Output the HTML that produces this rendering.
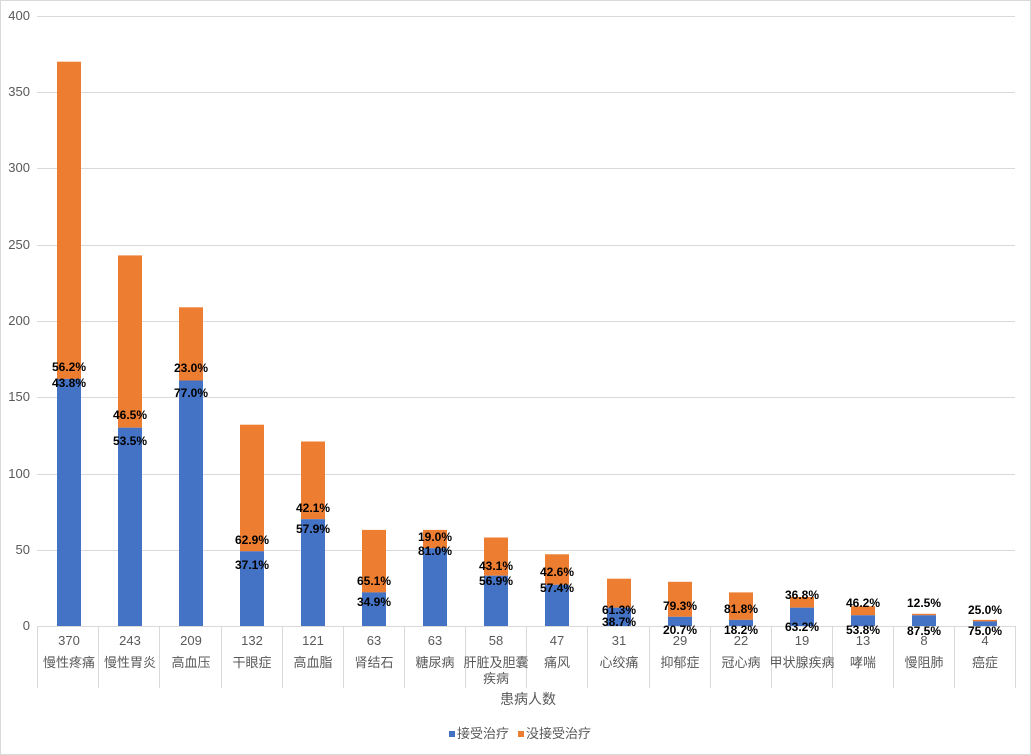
<!DOCTYPE html>
<html><head><meta charset="utf-8"><style>
html,body{margin:0;padding:0;background:#fff;}
svg{display:block;font-family:"Liberation Sans","Noto Sans CJK SC",sans-serif;}
.t{fill:#595959;font-size:13px;}
.p{fill:#000;font-size:12px;font-weight:bold;text-anchor:middle;}
.n{fill:#595959;font-size:13px;text-anchor:middle;}
.b{fill:#4472C4;} .o{fill:#ED7D31;}
</style></head><body>
<svg width="1031" height="755" viewBox="0 0 1031 755">
<rect x="0.5" y="0.5" width="1030" height="754" fill="#fff" stroke="#D9D9D9"/>
<g stroke="#D9D9D9" stroke-width="1">
<line x1="37" x2="1015" y1="16.5" y2="16.5"/>
<line x1="37" x2="1015" y1="92.5" y2="92.5"/>
<line x1="37" x2="1015" y1="168.5" y2="168.5"/>
<line x1="37" x2="1015" y1="245.5" y2="245.5"/>
<line x1="37" x2="1015" y1="321.5" y2="321.5"/>
<line x1="37" x2="1015" y1="397.5" y2="397.5"/>
<line x1="37" x2="1015" y1="474.5" y2="474.5"/>
<line x1="37" x2="1015" y1="550.5" y2="550.5"/>
<line x1="37" x2="1015" y1="626.5" y2="626.5"/>
<line x1="37.5" x2="37.5" y1="626" y2="688"/><line x1="98.5" x2="98.5" y1="626" y2="688"/>
<line x1="159.5" x2="159.5" y1="626" y2="688"/><line x1="221.5" x2="221.5" y1="626" y2="688"/>
<line x1="282.5" x2="282.5" y1="626" y2="688"/><line x1="343.5" x2="343.5" y1="626" y2="688"/>
<line x1="404.5" x2="404.5" y1="626" y2="688"/><line x1="465.5" x2="465.5" y1="626" y2="688"/>
<line x1="526.5" x2="526.5" y1="626" y2="688"/><line x1="587.5" x2="587.5" y1="626" y2="688"/>
<line x1="649.5" x2="649.5" y1="626" y2="688"/><line x1="710.5" x2="710.5" y1="626" y2="688"/>
<line x1="771.5" x2="771.5" y1="626" y2="688"/><line x1="832.5" x2="832.5" y1="626" y2="688"/>
<line x1="893.5" x2="893.5" y1="626" y2="688"/><line x1="954.5" x2="954.5" y1="626" y2="688"/>
<line x1="1015.5" x2="1015.5" y1="626" y2="688"/>
</g>
<g class="t" text-anchor="end">
<text x="30" y="20">400</text><text x="30" y="96">350</text><text x="30" y="172">300</text>
<text x="30" y="249">250</text><text x="30" y="325">200</text><text x="30" y="401">150</text>
<text x="30" y="478">100</text><text x="30" y="554">50</text><text x="30" y="630">0</text>
</g>
<g>
<rect class="o" x="57" y="61.7" width="24" height="317.2"/><rect class="b" x="57" y="378.9" width="24" height="247.1"/>
<rect class="o" x="118" y="255.4" width="24" height="172.3"/><rect class="b" x="118" y="427.7" width="24" height="198.3"/>
<rect class="o" x="179" y="307.3" width="24" height="73.2"/><rect class="b" x="179" y="380.5" width="24" height="245.5"/>
<rect class="o" x="240" y="424.7" width="24" height="126.6"/><rect class="b" x="240" y="551.3" width="24" height="74.7"/>
<rect class="o" x="301" y="441.5" width="24" height="77.7"/><rect class="b" x="301" y="519.2" width="24" height="106.8"/>
<rect class="o" x="362" y="529.9" width="24" height="62.5"/><rect class="b" x="362" y="592.4" width="24" height="33.6"/>
<rect class="o" x="423" y="529.9" width="24" height="18.3"/><rect class="b" x="423" y="548.2" width="24" height="77.8"/>
<rect class="o" x="484" y="537.5" width="24" height="38.2"/><rect class="b" x="484" y="575.7" width="24" height="50.3"/>
<rect class="o" x="545" y="554.3" width="24" height="30.5"/><rect class="b" x="545" y="584.8" width="24" height="41.2"/>
<rect class="o" x="607" y="578.7" width="24" height="29"/><rect class="b" x="607" y="607.7" width="24" height="18.3"/>
<rect class="o" x="668" y="581.8" width="24" height="35"/><rect class="b" x="668" y="616.8" width="24" height="9.2"/>
<rect class="o" x="729" y="592.4" width="24" height="27.5"/><rect class="b" x="729" y="619.9" width="24" height="6.1"/>
<rect class="o" x="790" y="597" width="24" height="10.7"/><rect class="b" x="790" y="607.7" width="24" height="18.3"/>
<rect class="o" x="851" y="606.2" width="24" height="9.1"/><rect class="b" x="851" y="615.3" width="24" height="10.7"/>
<rect class="o" x="912" y="613.8" width="24" height="1.5"/><rect class="b" x="912" y="615.3" width="24" height="10.7"/>
<rect class="o" x="973" y="619.9" width="24" height="1.5"/><rect class="b" x="973" y="621.4" width="24" height="4.6"/>
</g>
<g class="p">
<text x="69" y="371">56.2%</text><text x="69" y="387">43.8%</text>
<text x="130" y="419">46.5%</text><text x="130" y="445">53.5%</text>
<text x="191" y="372">23.0%</text><text x="191" y="397">77.0%</text>
<text x="252" y="544">62.9%</text><text x="252" y="569">37.1%</text>
<text x="313" y="512">42.1%</text><text x="313" y="533">57.9%</text>
<text x="374" y="585">65.1%</text><text x="374" y="606">34.9%</text>
<text x="435" y="541">19.0%</text><text x="435" y="555">81.0%</text>
<text x="496" y="570">43.1%</text><text x="496" y="585">56.9%</text>
<text x="557" y="576">42.6%</text><text x="557" y="592">57.4%</text>
<text x="619" y="614">61.3%</text><text x="619" y="626">38.7%</text>
<text x="680" y="610">79.3%</text><text x="680" y="634">20.7%</text>
<text x="741" y="613">81.8%</text><text x="741" y="634">18.2%</text>
<text x="802" y="599">36.8%</text><text x="802" y="631">63.2%</text>
<text x="863" y="607">46.2%</text><text x="863" y="634">53.8%</text>
<text x="924" y="607">12.5%</text><text x="924" y="635">87.5%</text>
<text x="985" y="614">25.0%</text><text x="985" y="635">75.0%</text>
</g>
<g class="n">
<text x="69" y="645">370</text><text x="130" y="645">243</text><text x="191" y="645">209</text><text x="252" y="645">132</text>
<text x="313" y="645">121</text><text x="374" y="645">63</text><text x="435" y="645">63</text><text x="496" y="645">58</text>
<text x="557" y="645">47</text><text x="619" y="645">31</text><text x="680" y="645">29</text><text x="741" y="645">22</text>
<text x="802" y="645">19</text><text x="863" y="645">13</text><text x="924" y="645">8</text><text x="985" y="645">4</text>
<text x="69" y="667">慢性疼痛</text><text x="130" y="667">慢性胃炎</text><text x="191" y="667">高血压</text><text x="252" y="667">干眼症</text>
<text x="313" y="667">高血脂</text><text x="374" y="667">肾结石</text><text x="435" y="667">糖尿病</text><text x="496" y="667">肝脏及胆囊</text>
<text x="496" y="683">疾病</text>
<text x="557" y="667">痛风</text><text x="619" y="667">心绞痛</text><text x="680" y="667">抑郁症</text><text x="741" y="667">冠心病</text>
<text x="802" y="667">甲状腺疾病</text><text x="863" y="667">哮喘</text><text x="924" y="667">慢阻肺</text><text x="985" y="667">癌症</text>
</g>
<text x="528" y="704" class="n" style="font-size:14px">患病人数</text>
<rect x="449" y="731" width="6" height="6" class="b"/>
<text x="457" y="738" class="t">接受治疗</text>
<rect x="518" y="731" width="6" height="6" class="o"/>
<text x="526" y="738" class="t">没接受治疗</text>
</svg>
</body></html>
